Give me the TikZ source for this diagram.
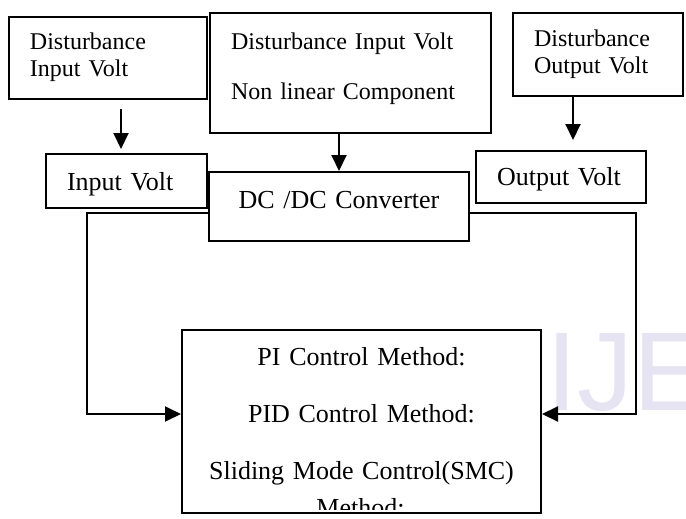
\documentclass[tikz,border=0pt]{standalone}
\usepackage{fontspec}
\setmainfont{Liberation Serif}
\newfontfamily\wmfont{Liberation Sans}
\usepackage{xcolor}
\definecolor{wmlilac}{RGB}{230,228,242}
\usetikzlibrary{arrows.meta,calc}

\begin{document}
\begin{tikzpicture}[x=1pt,y=1pt,yscale=-1,xscale=1,
		box/.style={draw, line width=2pt, inner xsep=21pt, inner ysep=0pt, align=left},
		smalltxt/.style={font=\fontsize{24}{27}\selectfont},
		bigtxt/.style={font=\fontsize{26}{30}\selectfont},
		arr/.style={line width=2pt, -{Triangle[length=16pt,width=15pt]}}]
			\useasboundingbox (0,0) rectangle (686,519);
			
			%Watermark
			\node[font=\wmfont\fontsize{112}{112}\selectfont, text=wmlilac, anchor=base west, inner sep=0pt] (wmark) at (546,410) {IJE};
			
			%Shape: Rectangle (disturbance boxes)
			\node[box, smalltxt, text width=156pt, text height=16pt, text depth=32pt, minimum height=82pt] (distin) at (108,58) {Disturbance\\Input Volt};
			\node[box, smalltxt, text width=239pt, text height=16pt, text depth=62pt, minimum height=120pt] (distcomp) at (350.5,73) {Disturbance Input Volt\\[23pt]Non linear Component};
			\node[box, smalltxt, text width=128pt, text height=16pt, text depth=31pt, minimum height=83pt] (distout) at (598,54.5) {Disturbance\\Output Volt};
			
			%Shape: Rectangle (plant)
			\node[box, bigtxt, text width=119pt, text height=18pt, text depth=0pt, minimum height=54pt] (involt) at (126.5,181) {Input Volt};
			\node[box, bigtxt, align=center, text width=218pt, text height=18pt, text depth=15pt, minimum height=69pt] (dcdc) at (339,206.5) {DC /DC Converter};
			\node[box, bigtxt, text width=128pt, text height=17pt, text depth=1pt, minimum height=52pt] (outvolt) at (561,177) {Output Volt};
			
			%Shape: Rectangle (controllers)
			\node[box, bigtxt, align=center, text width=317pt, text height=18pt, text depth=131pt, minimum height=183pt] (ctrl) at (361.5,421.5) {PI Control Method:\\[27pt]PID Control Method:\\[27pt]Sliding Mode Control(SMC)};
			\begin{scope}
				\clip (ctrl.north west) rectangle ($(ctrl.south east)+(0,-5)$);
				% Text Node
				\node[bigtxt, anchor=base, inner sep=0pt] (ctrlmore) at ($(ctrl.south)+(-1,2)$) {Method:};
			\end{scope}
			
			%Straight Lines (disturbances)
			\draw[arr] ($(distin.south)+(13,9)$) -- ($(involt.north)+(-5.5,-4)$);
			\draw[arr] (dcdc.north |- distcomp.south) -- (dcdc.north);
			\draw[arr] ($(distout.south)+(-25,0)$) -- ($(outvolt.north)+(12,-10)$);
			
			%Straight Lines (feedback)
			\coordinate (lfeed) at (87,213);
			\coordinate (lturn) at (87,414);
			\coordinate (rfeed) at (636,213);
			\coordinate (rturn) at (636,414);
			\draw[arr] (lfeed -| dcdc.west) -- (lfeed) -- (lturn) -- (lturn -| ctrl.west);
			\draw[arr] (rfeed -| dcdc.east) -- (rfeed) -- (rturn) -- (rturn -| ctrl.east);
			
\end{tikzpicture}
\end{document}
